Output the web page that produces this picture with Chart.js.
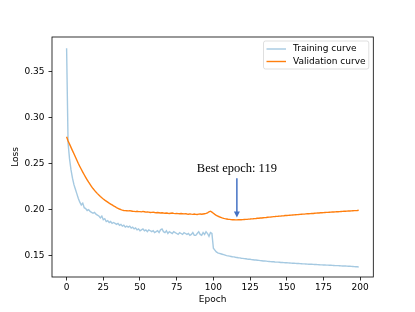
<!DOCTYPE html>
<html>
<head>
<meta charset="utf-8">
<script src="https://cdn.jsdelivr.net/npm/chart.js@4.4.1/dist/chart.umd.min.js"></script>
<style>
  html, body { margin: 0; padding: 0; background: #fff; }
  canvas { display: block; }
</style>
</head>
<body>
<canvas id="lossChart" width="415" height="312"></canvas>
<script>
// loss per epoch (epochs 0..199)
let trainLoss = [
  0.375, 0.272, 0.255, 0.243, 0.234, 0.227, 0.222, 0.217, 0.212, 0.208,
  0.205, 0.207, 0.202, 0.201, 0.199, 0.200, 0.198, 0.197, 0.196, 0.197,
  0.195, 0.194, 0.193, 0.191, 0.193, 0.189, 0.190, 0.187, 0.188, 0.186,
  0.187, 0.185, 0.186, 0.185, 0.184, 0.185, 0.183, 0.184, 0.182, 0.183,
  0.181, 0.182, 0.181, 0.182, 0.180, 0.181, 0.179, 0.180, 0.178, 0.179,
  0.177, 0.178, 0.179, 0.177, 0.178, 0.176, 0.178, 0.177, 0.176, 0.177,
  0.175, 0.176, 0.177, 0.175, 0.178, 0.179, 0.176, 0.175, 0.177, 0.174,
  0.176, 0.175, 0.174, 0.176, 0.175, 0.174, 0.173, 0.175, 0.174, 0.173,
  0.175, 0.174, 0.173, 0.174, 0.172, 0.173, 0.175, 0.172, 0.172, 0.174,
  0.176, 0.173, 0.172, 0.175, 0.173, 0.176, 0.174, 0.171, 0.175, 0.174,
  0.158, 0.156, 0.154, 0.153, 0.1525, 0.152, 0.1515, 0.151, 0.1505, 0.150,
  0.1497, 0.1494, 0.1491, 0.1488, 0.1486, 0.1482, 0.1480, 0.1477, 0.1475, 0.1472,
  0.1470, 0.1468, 0.1466, 0.1463, 0.1461, 0.1460, 0.1457, 0.1455, 0.1453, 0.1452,
  0.1450, 0.1448, 0.1446, 0.1445, 0.1442, 0.1441, 0.1440, 0.1438, 0.1437, 0.1435,
  0.1434, 0.1433, 0.1431, 0.1430, 0.1429, 0.1428, 0.1426, 0.1425, 0.1424, 0.1423,
  0.1422, 0.1421, 0.1420, 0.1419, 0.1418, 0.1417, 0.1416, 0.1415, 0.1414, 0.1413,
  0.1412, 0.1411, 0.1410, 0.1409, 0.1408, 0.1407, 0.1406, 0.1406, 0.1405, 0.1404,
  0.1403, 0.1402, 0.1401, 0.1400, 0.1400, 0.1399, 0.1398, 0.1397, 0.1397, 0.1396,
  0.1395, 0.1394, 0.1393, 0.1392, 0.1392, 0.1391, 0.1390, 0.1389, 0.1388, 0.1388,
  0.1387, 0.1386, 0.1385, 0.1384, 0.1383, 0.1382, 0.1381, 0.1380, 0.1379, 0.1377
];
let valLoss = [
  0.279, 0.2745, 0.271, 0.2675, 0.264, 0.2605, 0.257, 0.2535, 0.250, 0.2468,
  0.2437, 0.2407, 0.2378, 0.235, 0.2323, 0.2297, 0.2273, 0.225, 0.2228, 0.2208,
  0.219, 0.2173, 0.2157, 0.2142, 0.2128, 0.2115, 0.2103, 0.2092, 0.2081, 0.207,
  0.206, 0.205, 0.204, 0.2031, 0.2022, 0.2014, 0.2006, 0.1999, 0.1994, 0.199,
  0.1988, 0.1987, 0.1986, 0.1988, 0.1985, 0.1982, 0.198, 0.1978, 0.1982, 0.1978,
  0.1978, 0.1975, 0.198, 0.1976, 0.1972, 0.1975, 0.1972, 0.1968, 0.197, 0.1972,
  0.1968, 0.1966, 0.1968, 0.1965, 0.1962, 0.1965, 0.1962, 0.196, 0.1963, 0.196,
  0.1958, 0.196, 0.1962, 0.1958, 0.1956, 0.1958, 0.1956, 0.1954, 0.1957, 0.1955,
  0.1953, 0.1956, 0.1952, 0.195, 0.1953, 0.195, 0.1948, 0.1951, 0.1948, 0.1947,
  0.195, 0.1952, 0.1949, 0.1952, 0.1955, 0.1958, 0.1965, 0.1976, 0.1982, 0.1972,
  0.1960, 0.1948, 0.1938, 0.1930, 0.1922, 0.1916, 0.1910, 0.1905, 0.1901, 0.1898,
  0.1895, 0.1893, 0.1891, 0.1890, 0.1889, 0.1888, 0.1888, 0.1889, 0.1890, 0.1890,
  0.1891, 0.1892, 0.1893, 0.1894, 0.1896, 0.1897, 0.1899, 0.1900, 0.1902, 0.1903,
  0.1905, 0.1906, 0.1908, 0.1909, 0.1911, 0.1913, 0.1914, 0.1916, 0.1918, 0.1919,
  0.1921, 0.1923, 0.1924, 0.1926, 0.1927, 0.1929, 0.1930, 0.1932, 0.1933, 0.1935,
  0.1936, 0.1937, 0.1939, 0.1940, 0.1941, 0.1942, 0.1944, 0.1945, 0.1946, 0.1948,
  0.1949, 0.1950, 0.1951, 0.1953, 0.1954, 0.1955, 0.1956, 0.1957, 0.1958, 0.1960,
  0.1961, 0.1962, 0.1963, 0.1965, 0.1966, 0.1967, 0.1968, 0.1969, 0.1970, 0.1971,
  0.1972, 0.1973, 0.1974, 0.1975, 0.1976, 0.1977, 0.1978, 0.1979, 0.1980, 0.1981,
  0.1982, 0.1983, 0.1984, 0.1985, 0.1986, 0.1987, 0.1988, 0.1989, 0.1990, 0.1992
];
let seriesNames = ['Training curve', 'Validation curve'];
let seriesColors = ['rgba(31,119,180,0.4)', '#ff7f0e'];
let xTicks = [0, 25, 50, 75, 100, 125, 150, 175, 200];
let yTicks = [0.15, 0.20, 0.25, 0.30, 0.35];
let bestEpoch = 119;
let arrowEpoch = 116;

const font = 'DejaVu Sans';

function toPoints(arr) {
  return arr.map((v, i) => ({ x: i, y: v }));
}

// full box round the axes, like matplotlib spines
const boxPlugin = {
  id: 'box',
  afterDatasetsDraw(chart) {
    const a = chart.chartArea, ctx = chart.ctx;
    ctx.save();
    ctx.strokeStyle = '#000';
    ctx.lineWidth = 0.8;
    ctx.strokeRect(a.left, a.top, a.right - a.left, a.bottom - a.top);
    ctx.restore();
  }
};

// "Best epoch" text with arrow
const notePlugin = {
  id: 'note',
  afterDatasetsDraw(chart) {
    const ctx = chart.ctx;
    const xs = chart.scales.x, ys = chart.scales.y;
    const px = xs.getPixelForValue(arrowEpoch);
    const yTop = ys.getPixelForValue(0.234);
    const yTip = ys.getPixelForValue(0.1915);
    ctx.save();
    ctx.fillStyle = '#000';
    ctx.font = '12.5px "Liberation Serif"';
    ctx.textAlign = 'center';
    ctx.textBaseline = 'middle';
    ctx.fillText('Best epoch: ' + bestEpoch, px, ys.getPixelForValue(0.2447));
    ctx.strokeStyle = '#4472c4';
    ctx.fillStyle = '#4472c4';
    ctx.lineWidth = 1.5;
    ctx.beginPath();
    ctx.moveTo(px, yTop);
    ctx.lineTo(px, yTip - 5);
    ctx.stroke();
    ctx.beginPath();
    ctx.moveTo(px - 3, yTip - 6);
    ctx.lineTo(px + 3, yTip - 6);
    ctx.lineTo(px, yTip);
    ctx.closePath();
    ctx.fill();
    ctx.restore();
  }
};

// matplotlib-style legend, upper right inside the axes
const legendPlugin = {
  id: 'mplLegend',
  afterDraw(chart) {
    const ctx = chart.ctx, a = chart.chartArea;
    const bx = 263.5, by = 41, bw = a.right - 4.5 - 263.5, bh = 28;
    ctx.save();
    ctx.fillStyle = 'rgba(255,255,255,0.8)';
    ctx.strokeStyle = 'rgba(204,204,204,0.8)';
    ctx.lineWidth = 0.8;
    ctx.beginPath();
    ctx.roundRect(bx, by, bw, bh, 2);
    ctx.fill();
    ctx.stroke();
    ctx.font = '9px "' + font + '"';
    ctx.textBaseline = 'middle';
    chart.data.datasets.forEach((ds, i) => {
      const rowY = by + 8 + i * 12.5;
      ctx.strokeStyle = ds.borderColor;
      ctx.lineWidth = 1.4;
      ctx.beginPath();
      ctx.moveTo(bx + 3, rowY);
      ctx.lineTo(bx + 22.5, rowY);
      ctx.stroke();
      ctx.fillStyle = '#000';
      ctx.fillText(ds.label, bx + 29.5, rowY);
    });
    ctx.restore();
  }
};

let ctx = document.getElementById('lossChart').getContext('2d');
let chart = new Chart(ctx, {
  type: 'line',
  data: {
    datasets: [
      {
        label: seriesNames[0],
        data: toPoints(trainLoss),
        borderColor: seriesColors[0],
        borderWidth: 1.4,
        pointRadius: 0,
        tension: 0,
        order: 2
      },
      {
        label: seriesNames[1],
        data: toPoints(valLoss),
        borderColor: seriesColors[1],
        borderWidth: 1.4,
        pointRadius: 0,
        tension: 0,
        order: 1
      }
    ]
  },
  options: {
    responsive: false,
    animation: false,
    devicePixelRatio: 1,
    layout: { padding: { top: 37, right: 41.7, left: 0, bottom: 0 } },
    plugins: {
      legend: { display: false },
      tooltip: { enabled: false }
    },
    scales: {
      x: {
        type: 'linear',
        min: -9.95,
        max: 208.95,
        afterBuildTicks(scale) { scale.ticks = xTicks.map(v => ({ value: v })); },
        afterFit(scale) { scale.height = 35; },
        ticks: {
          color: '#000',
          font: { family: font, size: 9 },
          padding: 2,
          maxRotation: 0,
          callback: v => String(v)
        },
        grid: { drawOnChartArea: false, drawTicks: true, tickLength: 3.5, color: '#000', lineWidth: 0.8 },
        border: { display: false },
        title: { display: true, text: 'Epoch', color: '#000', font: { family: font, size: 9 }, padding: { top: 0, bottom: 6.6 } }
      },
      y: {
        type: 'linear',
        min: 0.1268,
        max: 0.3873,
        afterBuildTicks(scale) { scale.ticks = yTicks.map(v => ({ value: v })); },
        afterFit(scale) { scale.width = 52; },
        ticks: {
          color: '#000',
          font: { family: font, size: 9 },
          padding: 4,
          callback: v => v.toFixed(2)
        },
        grid: { drawOnChartArea: false, drawTicks: true, tickLength: 3.5, color: '#000', lineWidth: 0.8 },
        border: { display: false },
        title: { display: true, text: 'Loss', color: '#000', font: { family: font, size: 9 }, padding: { top: 10.6, bottom: 0 } }
      }
    }
  },
  plugins: [boxPlugin, notePlugin, legendPlugin]
});
</script>
</body>
</html>
